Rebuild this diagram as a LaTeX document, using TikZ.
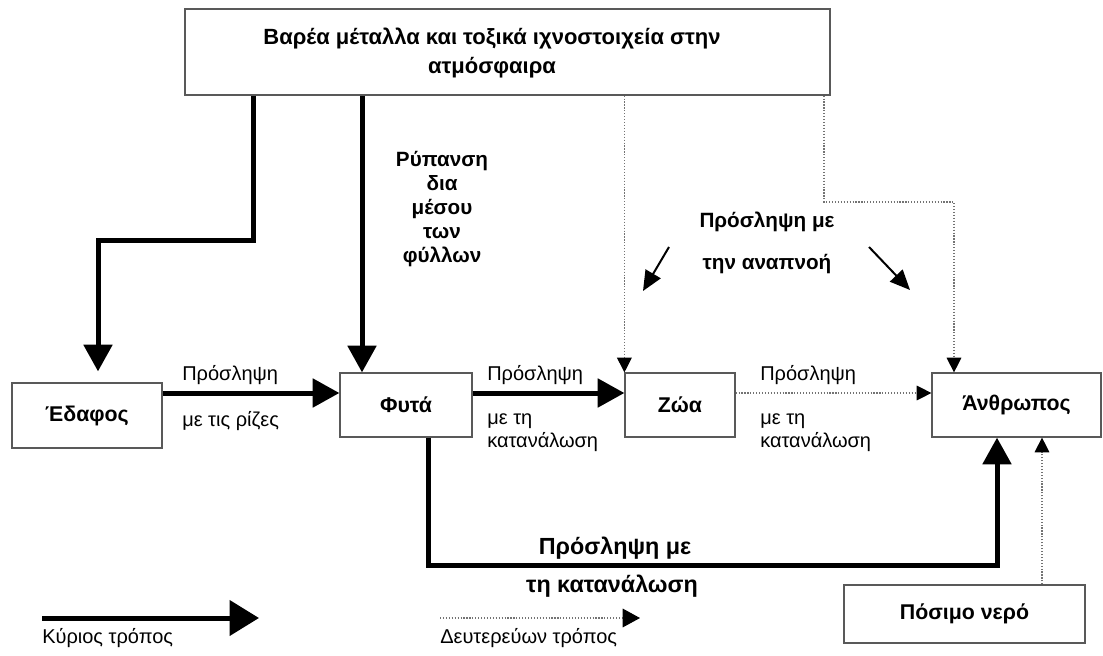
\documentclass[tikz,border=0pt]{standalone}
\usepackage{fontspec}
\setmainfont{Liberation Sans}
\usepackage{tikz}
\usetikzlibrary{arrows.meta,calc}
\tikzstyle{block} = [draw=black!65, line width=0.9pt, rectangle, text centered, inner sep=0pt]
\tikzstyle{lbl} = [inner sep=0pt, font=\lblfont]
\tikzstyle{mainline} = [draw, line width=3.75pt, -{Triangle[length=20pt,width=21pt]}]
\tikzstyle{sideline} = [draw=black!55, line width=0.8pt, dash pattern=on 0.9pt off 1.3pt, -{Triangle[length=11pt,width=11pt,color=black]}]
\tikzstyle{breathline} = [draw, line width=1.5pt, -{Triangle[length=15pt,width=13pt]}]
\newcommand{\boxfont}{\fontsize{16}{21.75}\selectfont\bfseries}
\newcommand{\lblfont}{\fontsize{15}{17.25}\selectfont}
\newcommand{\notefont}{\fontsize{15.5}{18}\selectfont\bfseries}
\newcommand{\bigfont}{\fontsize{17.5}{21}\selectfont\bfseries}
\newcommand{\keyfont}{\fontsize{15}{18}\selectfont}

\begin{document}
\begin{tikzpicture}[x=0.75pt, y=-0.75pt]
    \path[use as bounding box, fill=white] (0,0) rectangle (1103,656);
    % boxes
    \node[block, minimum width=483.75pt, minimum height=64.5pt] (atmo) at (507.5,52) {};
    \node[align=center, font=\fontsize{16.5}{21.75}\selectfont\bfseries] (atmotext) at (492,53)
        {Βαρέα μέταλλα και τοξικά ιχνοστοιχεία στην\\ατμόσφαιρα};
    \node[block, minimum width=112.5pt, minimum height=48.75pt, font=\boxfont] (edafos) at (87,415.5) {Έδαφος};
    \node[block, minimum width=99pt, minimum height=48pt, font=\boxfont] (fyta) at (406,405) {Φυτά};
    \node[block, minimum width=82.5pt, minimum height=48pt, font=\boxfont] (zoa) at (680,405) {Ζώα};
    \node[block, minimum width=126.75pt, minimum height=48pt, font=\boxfont] (anthropos) at (1016.5,405) {Άνθρωπος};
    \node[block, minimum width=180.75pt, minimum height=43.5pt, font=\boxfont] (nero) at (964.5,614) {Πόσιμο νερό};

    % bends
    \coordinate (soilbend) at (253,240);
    \coordinate (soildrop) at (98,240);
    \coordinate (leafx) at (362,0);
    \coordinate (uptake) at (0,393);
    \coordinate (airbend) at (824,202);
    \coordinate (airdrop) at (954,202);
    \coordinate (foodbend) at (428,565);
    \coordinate (foodrise) at (997,565);
    \coordinate (waterx) at (1042,0);

    % connectors
    \path[mainline] (atmo.south -| soilbend) -- (soilbend) -- (soildrop) -- ($(soildrop |- edafos.north)+(0,-11)$);
    \path[mainline] (atmo.south -| leafx) -- (fyta.north -| leafx);
    \path[mainline] (edafos.east |- uptake) -- (fyta.west |- uptake);
    \path[mainline] (fyta.east |- uptake) -- (zoa.west |- uptake);
    \path[sideline] (zoa.east |- uptake) -- (anthropos.west |- uptake);
    \path[sideline] (atmo.south -| zoa.north west) -- (zoa.north west);
    \path[sideline] (atmo.south -| airbend) -- (airbend) -- (airdrop) -- (anthropos.north -| airdrop);
    \path[mainline] (fyta.south -| foodbend) -- (foodbend) -- (foodrise) -- (anthropos.south -| foodrise);
    \path[sideline] (nero.north -| waterx) -- (anthropos.south -| waterx);

    % labels
    \node[lbl, anchor=west] (rootsup) at (182,375) {Πρόσληψη};
    \node[lbl, anchor=west] (rootsdown) at (182,421) {με τις ρίζες};
    \node[lbl, anchor=west] (eatup) at (487,375) {Πρόσληψη};
    \node[lbl, anchor=west, align=left] (eatdown) at (487,432.5) {με τη\\κατανάλωση};
    \node[lbl, anchor=west] (meatup) at (760,375) {Πρόσληψη};
    \node[lbl, anchor=west, align=left] (meatdown) at (760,432.5) {με τη\\κατανάλωση};
    \node[align=center, font=\notefont] (leaves) at (442,209) {Ρύπανση\\δια\\μέσου\\των\\φύλλων};
    \node[align=center, font=\fontsize{15.5}{31.5}\selectfont\bfseries] (breath) at (767,243) {Πρόσληψη με\\την αναπνοή};
    \node[font=\bigfont] (foodup) at (615,548) {Πρόσληψη με};
    \node[font=\bigfont] (fooddown) at (612,586) {τη κατανάλωση};

    % breathing arrows
    \coordinate (breathl) at (669,247);
    \coordinate (breathlend) at (643,291);
    \coordinate (breathr) at (869,247);
    \coordinate (breathrend) at (910,290);
    \path[breathline] (breathl) -- (breathlend);
    \path[breathline] (breathr) -- (breathrend);

    % legend
    \coordinate (keymain) at (42,618);
    \coordinate (keymainend) at (259,618);
    \coordinate (keyside) at (440,618);
    \coordinate (keysideend) at (640,618);
    \path[mainline, -{Triangle[length=22pt,width=26pt]}] (keymain) -- (keymainend);
    \path[sideline, -{Triangle[length=13pt,width=14pt,color=black]}] (keyside) -- (keysideend);
    \node[anchor=west, inner sep=0pt, font=\keyfont] (keymaintext) at (42,638) {Κύριος τρόπος};
    \node[anchor=west, inner sep=0pt, font=\keyfont] (keysidetext) at (440,638) {Δευτερεύων τρόπος};
\end{tikzpicture}
\end{document}
